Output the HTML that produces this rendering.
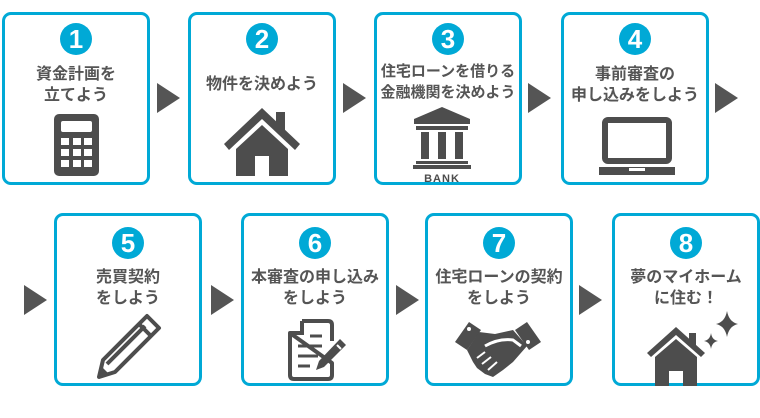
<!DOCTYPE html>
<html><head><meta charset="utf-8"><style>
body{margin:0;width:760px;height:418px;background:#fff;overflow:hidden;position:relative;font-family:"Liberation Sans","Noto Sans CJK JP",sans-serif}
.b{position:absolute;box-sizing:border-box;border:3px solid #00a9d6;border-radius:9px;background:#fff}
.n{position:absolute;width:32px;height:32px;border-radius:50%;background:#00a9d6;color:#fff;font-weight:bold;font-size:26px;line-height:32px;text-align:center;left:50%;margin-left:-16px}
.t{position:absolute;left:-8px;right:-8px;text-align:center;color:#555;font-weight:bold;font-size:16px;line-height:21px;white-space:nowrap}
.a{position:absolute;width:0;height:0;border-top:15px solid transparent;border-bottom:15px solid transparent;border-left:23px solid #555}
svg{position:absolute}
</style></head><body>
<!-- row 1 -->
<div class="b" style="left:2px;top:12px;width:148px;height:173px">
 <div class="n" style="top:8px">1</div>
 <div class="t" style="top:49px">資金計画を<br>立てよう</div>
 <svg style="left:49px;top:99px" width="45" height="62" viewBox="0 0 45 62"><rect width="45" height="62" rx="5" fill="#4d4d4d"/><rect x="7" y="7" width="31" height="11" rx="2" fill="#fff"/>
 <g fill="#fff"><rect x="7" y="24" width="8" height="7"/><rect x="19" y="24" width="8" height="7"/><rect x="30" y="24" width="8" height="7"/><rect x="7" y="35" width="8" height="7"/><rect x="19" y="35" width="8" height="7"/><rect x="30" y="35" width="8" height="7"/><rect x="7" y="46" width="8" height="7"/><rect x="19" y="46" width="8" height="7"/><rect x="30" y="46" width="8" height="7"/></g></svg>
</div>
<div class="a" style="left:157px;top:83px"></div>
<div class="b" style="left:188px;top:12px;width:148px;height:173px">
 <div class="n" style="top:8px">2</div>
 <div class="t" style="top:59px">物件を決めよう</div>
 <svg style="left:33px;top:91px" width="78" height="70" viewBox="0 0 78 70"><path d="M0 38 L38 2 L76 38 L71 44 L38 13 L5 44Z" fill="#4d4d4d"/><rect x="52" y="6" width="9" height="18" fill="#4d4d4d"/><path d="M12 43 L38 19 L64 43 L64 70 L45 70 L45 50 L31 50 L31 70 L12 70Z" fill="#4d4d4d"/></svg>
</div>
<div class="a" style="left:343px;top:83px"></div>
<div class="b" style="left:374px;top:12px;width:148px;height:173px">
 <div class="n" style="top:8px">3</div>
 <div class="t" style="top:46px;font-size:15px">住宅ローンを借りる<br>金融機関を決めよう</div>
 <svg style="left:35px;top:92px" width="60" height="75" viewBox="0 0 60 75"><path d="M30 0 L58 12 L58 17 L2 17 L2 12Z" fill="#4d4d4d"/><rect x="4" y="19" width="52" height="4" fill="#4d4d4d"/>
 <rect x="9" y="25" width="8" height="27" fill="#4d4d4d"/><rect x="26" y="25" width="8" height="27" fill="#4d4d4d"/><rect x="43" y="25" width="8" height="27" fill="#4d4d4d"/>
 <rect x="4" y="54" width="52" height="3" fill="#4d4d4d"/><rect x="1" y="58" width="58" height="4" fill="#4d4d4d"/>
 <text x="30" y="75" text-anchor="middle" font-family="Liberation Sans" font-weight="bold" font-size="11" fill="#4d4d4d" letter-spacing="1">BANK</text></svg>
</div>
<div class="a" style="left:528px;top:83px"></div>
<div class="b" style="left:561px;top:12px;width:148px;height:173px">
 <div class="n" style="top:8px">4</div>
 <div class="t" style="top:49px">事前審査の<br>申し込みをしよう</div>
 <svg style="left:35px;top:102px" width="76" height="58" viewBox="0 0 76 58"><rect x="6" y="3" width="64" height="41" rx="3" fill="none" stroke="#4d4d4d" stroke-width="6"/><path d="M0 50 L76 50 L76 58 L0 58Z" fill="#4d4d4d"/><rect x="30" y="51" width="16" height="3" fill="#fff"/></svg>
</div>
<div class="a" style="left:715px;top:83px"></div>
<!-- row 2 -->
<div class="a" style="left:24px;top:285px"></div>
<div class="b" style="left:54px;top:213px;width:148px;height:173px">
 <div class="n" style="top:11px">5</div>
 <div class="t" style="top:51px">売買契約<br>をしよう</div>
 <svg style="left:38px;top:96px" width="68" height="68" viewBox="0 0 68 68"><g fill="none" stroke="#4d4d4d" stroke-width="4" stroke-linejoin="round"><path d="M52 4 L64 16 L20 60 L4 65 L8 48Z"/><path d="M44 12 L56 24"/><path d="M12 52 L50 14"/></g><path d="M4 65 L7 55 L14 62Z" fill="#4d4d4d"/></svg>
</div>
<div class="a" style="left:211px;top:285px"></div>
<div class="b" style="left:241px;top:213px;width:148px;height:173px">
 <div class="n" style="top:11px">6</div>
 <div class="t" style="top:51px">本審査の申し込み<br>をしよう</div>
 <svg style="left:44px;top:103px" width="60" height="62" viewBox="0 0 60 62"><path d="M14 2 L40 2 Q44 2 44 6 L44 22 M44 44 L44 56 Q44 60 40 60 L6 60 Q2 60 2 56 L2 14Z" fill="none" stroke="#4d4d4d" stroke-width="4" stroke-linejoin="round"/><path d="M2 14 L14 14 L14 2" fill="none" stroke="#4d4d4d" stroke-width="4"/>
 <g stroke="#4d4d4d" stroke-width="3"><line x1="22" y1="17" x2="34" y2="17"/><line x1="10" y1="27" x2="34" y2="27"/><line x1="10" y1="37" x2="30" y2="37"/><line x1="10" y1="47" x2="22" y2="47"/></g>
 <path d="M52 20 L58 26 L36 48 L28 51 L31 42Z" fill="#4d4d4d"/><path d="M49 26 L53 30" stroke="#fff" stroke-width="2"/></svg>
</div>
<div class="a" style="left:396px;top:285px"></div>
<div class="b" style="left:425px;top:213px;width:148px;height:173px">
 <div class="n" style="top:11px">7</div>
 <div class="t" style="top:51px">住宅ローンの契約<br>をしよう</div>
 <svg style="left:27px;top:106px" width="86" height="56" viewBox="0 0 86 56"><g fill="#4d4d4d"><path d="M14 0 L26 8 L12 28 L0 20Z"/><path d="M72 0 L86 20 L74 28 L60 8Z"/><path d="M24 10 L40 12 L58 8 L72 24 L58 40 L48 48 L38 55 L30 52 L22 46 L18 40 L12 28Z"/></g><path d="M30 24 Q44 16 58 18 L66 24" fill="none" stroke="#fff" stroke-width="3"/><g stroke="#fff" stroke-width="2"><line x1="22" y1="36" x2="30" y2="30"/><line x1="27" y1="42" x2="36" y2="35"/><line x1="33" y1="48" x2="42" y2="40"/></g><circle cx="14" cy="7" r="2" fill="#fff"/><circle cx="73" cy="20" r="2" fill="#fff"/></svg>
</div>
<div class="a" style="left:579px;top:285px"></div>
<div class="b" style="left:612px;top:213px;width:148px;height:173px">
 <div class="n" style="top:11px">8</div>
 <div class="t" style="top:51px">夢のマイホーム<br>に住む！</div>
 <svg style="left:32px;top:95px" width="98" height="75" viewBox="0 0 98 75"><path d="M0 42 L29 16 L58 42 L54 46 L29 24 L4 46Z" fill="#4d4d4d"/><rect x="42" y="22" width="7" height="12" fill="#4d4d4d"/><path d="M8 46 L29 28 L50 46 L50 75 L36 75 L36 60 L22 60 L22 75 L8 75Z" fill="#4d4d4d"/>
 <path d="M80 0 Q82 11 91 13 Q82 15 80 26 Q78 15 69 13 Q78 11 80 0Z" fill="#4d4d4d"/><path d="M64 22 Q65 29 71 30 Q65 31 64 38 Q63 31 57 30 Q63 29 64 22Z" fill="#4d4d4d"/></svg>
</div>
</body></html>
